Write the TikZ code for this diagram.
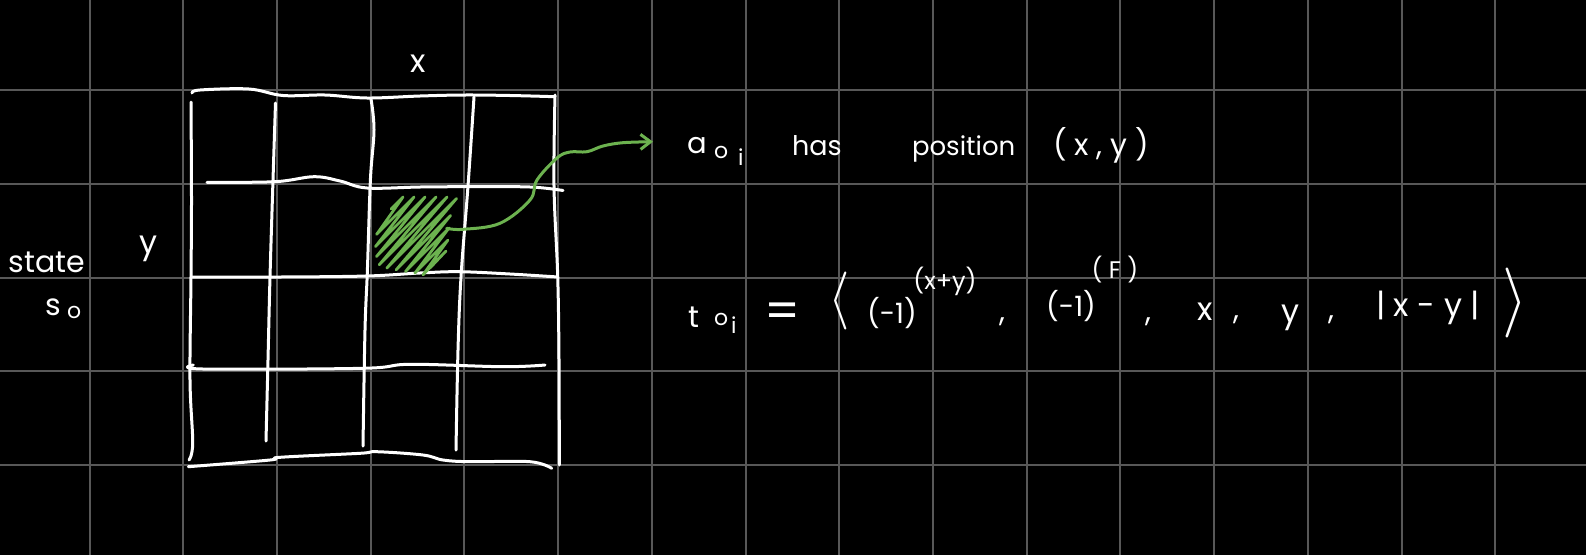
\documentclass[tikz,border=0pt]{standalone}
\usepackage{graphicx}
\usepackage{fontspec}
\setmainfont{Poppins}
\usetikzlibrary{arrows.meta}
\definecolor{gridgray}{RGB}{88,88,88}
\definecolor{hatchgreen}{RGB}{108,178,79}
\newcommand\hwsize[1]{\fontsize{#1}{#1}\selectfont}
\tikzset{
  hw/.style={text=white, inner sep=0pt, outer sep=0pt},
  gridln/.style={draw=gridgray, line width=2pt},
  pen/.style={draw=white, line width=3pt, line cap=round, line join=round},
  greenpen/.style={draw=hatchgreen, line width=3pt, line cap=round, line join=round},
}
\begin{document}
\begin{tikzpicture}[x=1pt,y=-1pt]
\fill[black] (0,0) rectangle (1586,555);
\useasboundingbox (0,0) rectangle (1586,555);
% background grid
\foreach \i in {0,...,15} \draw[gridln] ({89.5+93.72*\i},0) -- ({89.5+93.72*\i},555);
\foreach \i in {0,...,4} \draw[gridln] (0,{90.3+93.72*\i}) -- (1586,{90.3+93.72*\i});
% hand drawn 4x4 grid
\draw[pen] plot[smooth, tension=0.6] coordinates {(192,93) (200,90) (249,89) (283,95.5) (325,95) (367,98) (420,96) (464,95) (510,95.5) (555,96.7)};
\draw[pen] plot[smooth, tension=0.6] coordinates {(207,182.3) (275,181.7) (314,176.7) (340,181) (367,188) (420,187) (467,186.7) (530,187) (563,190.5)};
\draw[pen] plot[smooth, tension=0.6] coordinates {(191,277) (280,277) (367,276) (420,273) (459,271.7) (510,274) (558,277)};
\draw[pen] plot[smooth, tension=0.6] coordinates {(193.3,365) (203,369) (363,368.3) (410,364.3) (503,366.7) (545,365)};
\draw[pen] plot[smooth, tension=0.6] coordinates {(188.3,466.7) (270,460) (280,457.3) (360,453.3) (376.7,451.7) (423,455) (443,460) (470,461.7) (530,461.7) (551.7,468.3)};
\draw[pen] plot[smooth, tension=0.6] coordinates {(191,102) (191.5,200) (191,277) (190,380) (192.7,443) (189,460)};
\draw[pen] plot[smooth, tension=0.6] coordinates {(275.5,103) (273,180) (270,277) (268,360) (266,441)};
\draw[pen] plot[smooth, tension=0.6] coordinates {(371,99) (374,130) (370.4,180) (367.4,270) (365,330) (363,446)};
\draw[pen] plot[smooth, tension=0.6] coordinates {(474,97) (468,186) (461,277) (458,350) (456,450)};
\draw[pen] plot[smooth, tension=0.6] coordinates {(555,95) (554,186) (557.7,276) (559,360) (559.3,465)};
% green hatch
\draw[greenpen, line width=2.8pt] (391,209) -- (403,197) -- (376.6,234.4) -- (414,197) -- (375.5,246.5) -- (425,197)
  -- (376.5,256.5) -- (436,197) -- (379.25,264.75) -- (447,197) -- (386.8,268.2) -- (456.5,198.5)
  -- (396.1,269.9) -- (450.5,215.5) -- (405.5,271.5) -- (449,228) -- (414.8,273.2) -- (447.9,240.1)
  -- (423,274.8) -- (446,251) -- (430,268);
% labels
\node[hw, anchor=base west, font=\hwsize{32}] (xlab) at (410,72) {x};
\node[hw, anchor=base west, font=\hwsize{30}] (state) at (9,272) {state};
\node[hw, anchor=base west, font=\hwsize{32}] (ylab) at (139,253) {y};
\node[hw, anchor=base west, font=\hwsize{30}] (s) at (45,315) {s};
\node[hw, anchor=base west, font=\hwsize{22}] (s0) at (67,318) {o};
% first line
\node[hw, anchor=base west, font=\hwsize{29}] (a) at (687,153) {a};
\node[hw, anchor=base west, font=\hwsize{22}] (ao) at (714,158) {o};
\node[hw, anchor=base west, font=\hwsize{22}] (ai) at (738,165) {i};
\node[hw, anchor=base west, font=\hwsize{27}] (has) at (792,155) {has};
\node[hw, anchor=base west, font=\hwsize{26}] (pos) at (912,155) {position};
\node[hw, anchor=base west, font=\hwsize{30}] (xy) at (1053,155) {( x , y )};
% arrow
\coordinate (arrS) at (446.7,228.3);
\coordinate (arrE) at (653,141.7);
\draw[greenpen, -{Straight Barb[length=10pt,width=15pt]}] plot[smooth, tension=0.6] coordinates {(arrS) (463,229.3) (500,223.3) (530,200) (537,180) (557,158) (570,152) (587,151.7) (603,146) (623,142.7) (arrE)};
% second line
\node[hw, anchor=base west, font=\hwsize{30}] (t) at (688,327) {t};
\node[hw, anchor=base west, font=\hwsize{22}] (to) at (714,325) {o};
\node[hw, anchor=base west, font=\hwsize{22}] (ti) at (731,333) {i};
\node[hw, font=\hwsize{50}] (eq) at (783,316) {=};
\node[hw] (lang) at (839,301) {\scalebox{5.5}[5.8]{$\langle$}};
\node[hw, font=\hwsize{28}] (m1) at (892,313) {(-1)};
\node[hw, font=\hwsize{24}] (e1) at (945,281) {(x+y)};
\node[hw, font=\hwsize{30}] (c1) at (1002,322) {,};
\node[hw, font=\hwsize{28}] (m2) at (1071,306) {(-1)};
\node[hw, font=\hwsize{24}] (e2) at (1115,270) {( F )};
\node[hw, font=\hwsize{30}] (c2) at (1148,322) {,};
\node[hw, anchor=base, font=\hwsize{32}] (vx) at (1205,320) {x};
\node[hw, font=\hwsize{30}] (c3) at (1236,320) {,};
\node[hw, anchor=base, font=\hwsize{32}] (vy) at (1290,322) {y};
\node[hw, font=\hwsize{30}] (c4) at (1331,320) {,};
\node[hw, font=\hwsize{32}] (abs) at (1428,308) {| x - y |};
\node[hw] (rang) at (1515,303) {\scalebox{6.5}[7]{$\rangle$}};
\end{tikzpicture}
\end{document}
